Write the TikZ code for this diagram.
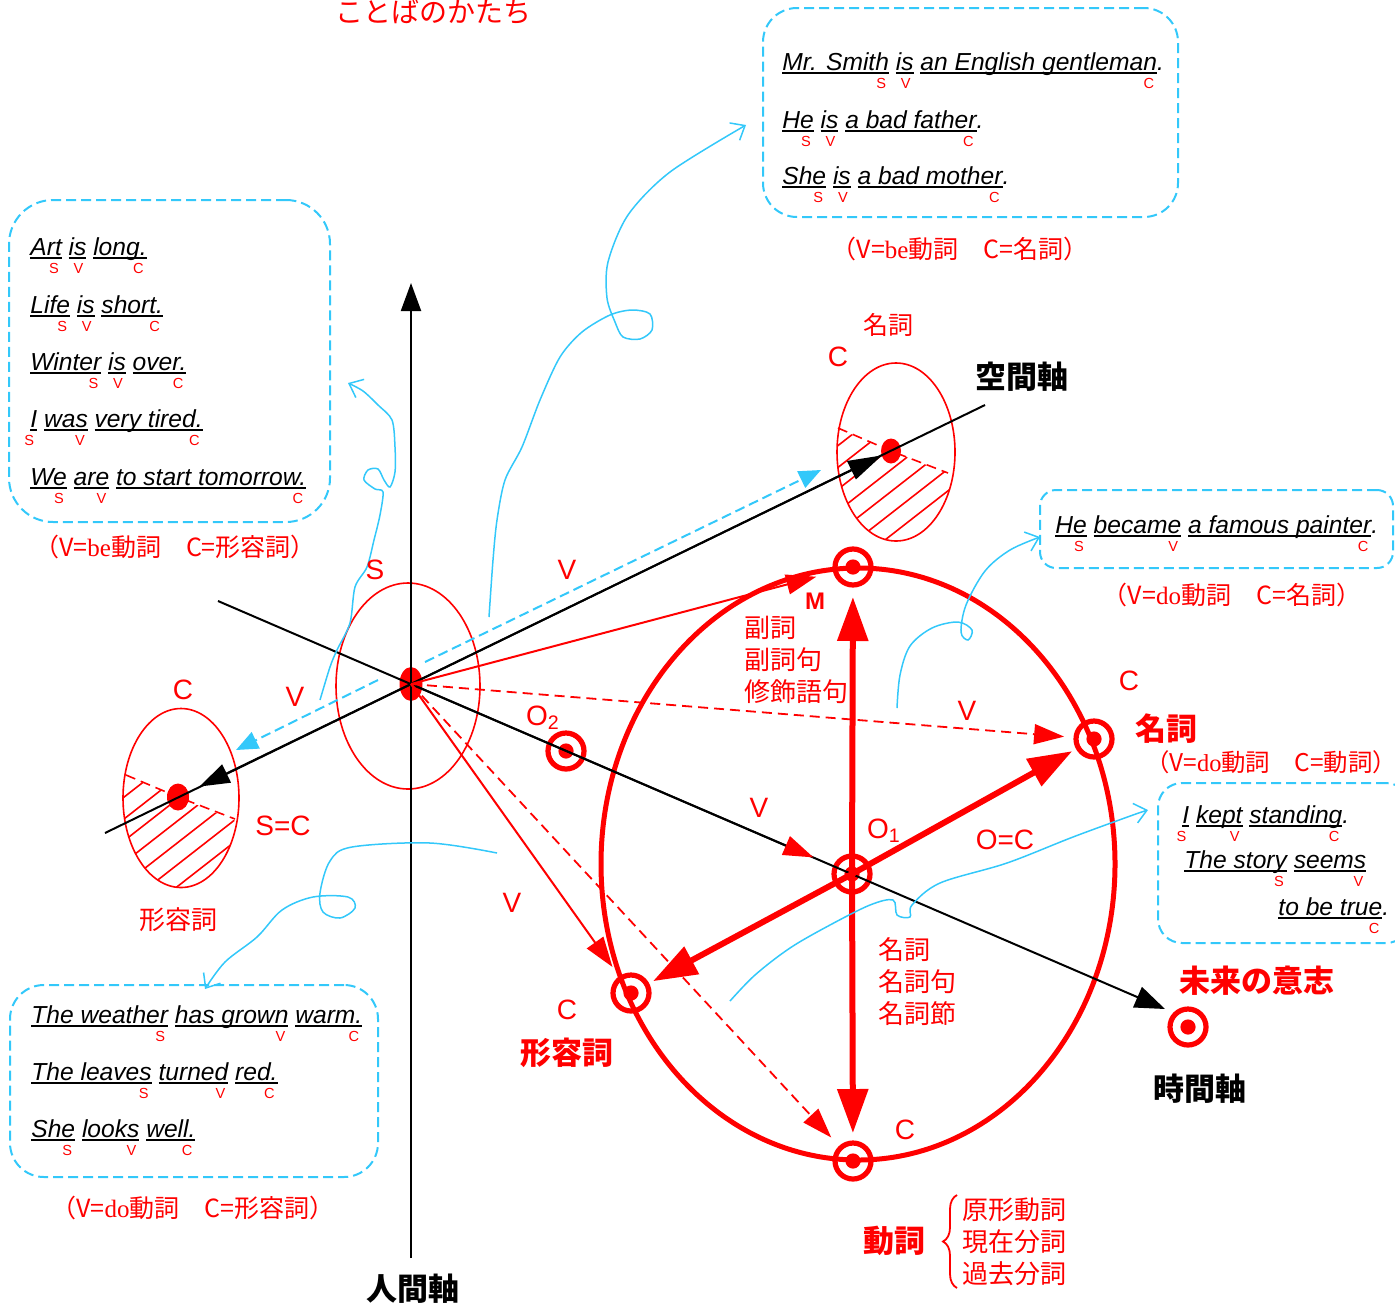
\documentclass[tikz,border=0pt]{standalone}
\usepackage{fontspec}
\setmainfont{Liberation Sans}
\newfontfamily\jp{Noto Sans CJK JP}
\newfontfamily\lat{Liberation Serif}
\usetikzlibrary{arrows.meta,fit,shapes.geometric,decorations.pathreplacing}
\definecolor{sky}{RGB}{51,200,250}

\newsavebox{\segbox}
% underlined part of a sentence with its red role letter
\newcommand{\sv}[2]{%
  \sbox\segbox{#1}%
  \rlap{\rule[-2.2pt]{\wd\segbox}{1pt}}%
  \rlap{\makebox[\wd\segbox][r]{\raisebox{-9pt}[0pt][0pt]{\upshape\color{red}\fontsize{7.3}{8}\selectfont #2}\hspace{1.5pt}}}%
  \usebox\segbox}

\tikzset{
  axis/.style={black,line width=1pt},
  redthin/.style={red,line width=1pt},
  reddash/.style={red,line width=0.9pt,dash pattern=on 5pt off 3pt},
  redtip/.style={-{Triangle[length=15pt,width=10pt]}},
  redfat/.style={red,line width=3pt,-{Triangle[length=22pt,width=15pt]}},
  skydash/.style={sky,line width=1pt,dash pattern=on 5pt off 2.5pt,-{Triangle[length=11pt,width=9pt]}},
  curl/.style={sky,line width=0.75pt,-{Straight Barb[length=6pt,width=10pt]}},
  box/.style={draw=sky,line width=1pt,dash pattern=on 5pt off 2.5pt,inner sep=0pt},
  target/.style={circle,draw=red,line width=2.6pt,minimum size=18pt,inner sep=0pt,
    path picture={\fill[red] (path picture bounding box.center) circle (3.8pt);}},
  sdot/.style={ellipse,fill=red,inner sep=0pt},
  hatch/.style={red,line width=0.8pt},
  lab/.style={red,font=\fontsize{14}{16}\selectfont},
  jlab/.style={red,font=\jp\fontsize{13}{16}\selectfont},
  jbig/.style={font=\jp\bfseries\fontsize{15.5}{18}\selectfont},
  sent/.style={anchor=base west,inner sep=0pt,font=\fontsize{12.3}{14}\selectfont\itshape},
  capt/.style={red,font=\jp\fontsize{12.5}{15}\selectfont},
}

\begin{document}
\begin{tikzpicture}[x=0.5pt,y=-0.5pt]
\useasboundingbox (0,0) rectangle (1395,1306);

% example boxes
\node[box,rounded corners=22pt,fit={(9,200) (330,522)}] (bxA) {};
\node[box,rounded corners=17pt,fit={(763,8) (1178,217)}] (bxB) {};
\node[box,rounded corners=8pt,fit={(1040,490) (1393,568)}] (bxC) {};
\node[box,rounded corners=12pt,fit={(1158,783) (1410,943)}] (bxD) {};
\node[box,rounded corners=17pt,fit={(10,985) (378,1177)}] (bxE) {};

\node[sent] (sA1) at (30,255) {\sv{Art}{S} \sv{is}{V} \sv{long.}{C}};
\node[sent] (sA2) at (30,313) {\sv{Life}{S} \sv{is}{V} \sv{short.}{C}};
\node[sent] (sA3) at (30,370) {\sv{Winter}{S} \sv{is}{V} \sv{over.}{C}};
\node[sent] (sA4) at (30,427) {\sv{I}{S} \sv{was}{V} \sv{very tired.}{C}};
\node[sent] (sA5) at (30,485) {\sv{We}{S} \sv{are}{V} \sv{to start tomorrow.}{C}};
\node[capt] (capA) at (175,547) {（V=\textup{\lat be}動詞　C=形容詞）};

\node[sent] (sB1) at (782,70) {\sv{Mr. Smith}{S} \sv{is}{V} \sv{an English gentleman}{C}.};
\node[sent] (sB2) at (782,128) {\sv{He}{S} \sv{is}{V} \sv{a bad father}{C}.};
\node[sent] (sB3) at (782,184) {\sv{She}{S} \sv{is}{V} \sv{a bad mother}{C}.};
\node[capt] (capB) at (960,249) {（V=\textup{\lat be}動詞　C=名詞）};

\node[sent] (sC1) at (1055,533) {\sv{He}{S} \sv{became}{V} \sv{a famous painter}{C}.};
\node[capt] (capC) at (1232,595) {（V=\textup{\lat do}動詞　C=名詞）};

\node[sent] (sD1) at (1182,823) {\sv{I}{S} \sv{kept}{V} \sv{standing}{C}.};
\node[sent] (sD2) at (1184,868) {\sv{The story}{S} \sv{seems}{V}};
\node[sent] (sD3) at (1278,915) {\sv{to be true}{C}.};

\node[sent] (sE1) at (31,1023) {\sv{The weather}{S} \sv{has grown}{V} \sv{warm.}{C}};
\node[sent] (sE2) at (31,1080) {\sv{The leaves}{S} \sv{turned}{V} \sv{red.}{C}};
\node[sent] (sE3) at (31,1137) {\sv{She}{S} \sv{looks}{V} \sv{well.}{C}};
\node[capt] (capE) at (193,1208) {（V=\textup{\lat do}動詞　C=形容詞）};

% targets
\node[target] (M) at (853,567) {};
\node[target] (Cn) at (1094,739) {};
\node[target] (O1) at (852,874) {};
\node[target] (Ca) at (631,993) {};
\node[target] (Cb) at (853,1161) {};
\node[target] (O2) at (566,751) {};
\node[target] (Fw) at (1188,1027) {};

% hatched halves
\begin{scope}
  \clip (896,452) ellipse (29.5pt and 44.5pt);
  \clip (820,421) -- (891,451) -- (960,478) -- (960,560) -- (820,560) -- cycle;
  \foreach \x in {640,668,...,900}
    \draw[hatch] (\x,600) -- ++(300,-234);
\end{scope}
\begin{scope}
  \clip (181,798) ellipse (29pt and 44.75pt);
  \clip (110,768) -- (178,797) -- (250,827) -- (250,900) -- (110,900) -- cycle;
  \foreach \x in {-100,-72,...,180}
    \draw[hatch] (\x,950) -- ++(300,-234);
\end{scope}
\draw[reddash,line width=0.8pt] (838,428) -- (891,451) -- (948,473);
\draw[reddash,line width=0.8pt] (126,775) -- (178,797) -- (235,819);

% word areas
\draw[red,line width=0.8pt] (408,686) ellipse (36pt and 51.5pt);
\draw[red,line width=0.8pt] (896,452) ellipse (29.5pt and 44.5pt);
\draw[red,line width=0.8pt] (181,798) ellipse (29pt and 44.75pt);
\draw[red,line width=2.5pt] (858,864) ellipse (128.5pt and 148pt);

\node[sdot,minimum width=11.5pt,minimum height=17pt] (S) at (411,684) {};
\node[sdot,minimum width=10pt,minimum height=12.5pt] (Cu) at (891,451) {};
\node[sdot,minimum width=11pt,minimum height=13.5pt] (Cl) at (178,797) {};

% axes
\coordinate (sp1) at (105,833);
\coordinate (sp2) at (985,405);
\coordinate (tm1) at (218,601);
\coordinate (tm2) at (1165,1009);
\coordinate (hm1) at (411,1258);
\coordinate (hm2) at (411,283);
\draw[axis] (sp1) -- (sp2);
\draw[axis,-{Triangle[length=15pt,width=11pt]}] (tm1) -- (tm2);
\draw[axis,-{Triangle[length=14pt,width=10pt]}] (hm1) -- (hm2);
\draw[axis,-{Triangle[length=17pt,width=10pt]},shorten >=5pt] (S.center) -- (Cu.center);
\draw[axis,-{Triangle[length=15pt,width=10pt]},shorten >=12pt] (S.center) -- (Cl.center);
\draw[axis,-{Triangle[length=15pt,width=10pt,color=red]},shorten >=21pt] (S.center) -- (O1.center);

% verbs from S
\draw[redthin,redtip,shorten >=19pt] (S.center) -- (M.center);
\draw[redthin,redtip,shorten >=16pt] (S.center) -- (Ca.center);
\draw[reddash,redtip,shorten >=15pt] (S.center) -- (Cn.center);
\draw[reddash,redtip,shorten >=16pt] (S.center) -- (Cb.center);

% from O1
\draw[redfat,shorten >=15pt] (O1.center) -- (M.center);
\draw[redfat,shorten >=14pt] (O1.center) -- (Cb.center);
\draw[redfat,shorten >=12.5pt] (O1.center) -- (Cn.center);
\draw[redfat,shorten >=12.5pt] (O1.center) -- (Ca.center);

% cyan links
\coordinate (vU) at (821,470);
\coordinate (vL) at (236,750);
\draw[skydash] (425,662) -- (vU);
\draw[skydash] (378,680) -- (vL);

\coordinate (k1a) at (489,617);
\coordinate (k1b) at (746,125);
\draw[curl] plot[smooth,tension=0.5] coordinates {(k1a) (493,560) (497,520) (505,480) (522,447) (540,400) (560,357) (582,332) (610,315) (632,310) (650,314) (652,330) (640,339) (623,337) (615,322) (607,298) (608,262) (628,215) (670,172) (k1b)};
\coordinate (k2a) at (320,700);
\coordinate (k2b) at (348,383);
\draw[curl] plot[smooth,tension=0.5] coordinates {(k2a) (330,667) (337,650) (350,623) (355,587) (367,567) (374,540) (380,515) (383,492) (375,489) (364,480) (368,470) (378,469) (384,480) (390,487) (395,472) (395,447) (392,420) (378,405) (363,391) (k2b)};
\coordinate (k3a) at (497,853);
\coordinate (k3b) at (205,989);
\draw[curl] plot[smooth,tension=0.55] coordinates {(k3a) (430,843) (352,847) (330,861) (320,893) (323,912) (340,918) (355,908) (348,897) (313,897) (282,910) (257,937) (225,962) (k3b)};
\coordinate (k4a) at (897,708);
\coordinate (k4b) at (1040,537);
\draw[curl] plot[smooth,tension=0.55] coordinates {(k4a) (900,675) (910,646) (932,628) (958,622) (972,630) (968,640) (961,632) (966,605) (985,571) (1010,550) (k4b)};
\coordinate (k5a) at (730,1001);
\coordinate (k5b) at (1148,810);
\draw[curl] plot[smooth,tension=0.55] coordinates {(k5a) (755,975) (790,948) (830,925) (870,905) (893,900) (897,915) (910,917) (912,905) (940,883) (1007,863) (1073,837) (1133,815) (k5b)};

% labels
\node[jlab,font=\jp\fontsize{14}{16}\selectfont] (tTitle) at (433,12) {ことばのかたち};
\node[lab] (tS) at (375,570) {S};
\node[lab] (tV1) at (567,570) {V};
\node[lab] (tV2) at (295,697) {V};
\node[lab] (tV3) at (512,903) {V};
\node[lab] (tV4) at (759,808) {V};
\node[lab] (tV5) at (967,711) {V};
\node[lab] (tCu) at (838,357) {C};
\node[jlab,font=\jp\fontsize{12.5}{15}\selectfont] (tNu) at (888,325) {名詞};
\node[jbig] (tSpace) at (1022,377) {空間軸};
\node[lab] (tCl) at (183,690) {C};
\node[lab] (tSC) at (283,826) {S=C};
\node[jlab] (tAl) at (178,920) {形容詞};
\node[red,font=\bfseries\fontsize{12}{14}\selectfont] (tM) at (815,601) {M};
\node[jlab,align=left,anchor=west] (tAdv) at (737,660) {副詞\\副詞句\\修飾語句};
\node[lab] (tO2) at (543,718) {O\textsubscript{2}};
\node[lab] (tO1) at (884,831) {O\textsubscript{1}};
\node[lab] (tOC) at (1005,840) {O=C};
\node[lab] (tCn) at (1129,681) {C};
\node[jbig,red] (tNn) at (1166,729) {名詞};
\node[capt,font=\jp\fontsize{12.2}{15}\selectfont] (capN) at (1271,762) {（V=\textup{\lat do}動詞　C=動詞）};
\node[jbig,red] (tFut) at (1257,981) {未来の意志};
\node[jbig] (tTime) at (1200,1089) {時間軸};
\node[lab] (tCa) at (567,1010) {C};
\node[jbig,red] (tAa) at (567,1053) {形容詞};
\node[lab] (tCb) at (905,1130) {C};
\node[jlab,align=left,anchor=west] (tNoun) at (871,982) {名詞\\名詞句\\名詞節};
\node[jbig] (tHuman) at (413,1289) {人間軸};
\node[jbig,red] (tVerb) at (894,1241) {動詞};
\draw[red,line width=0.9pt,decorate,decoration={brace,amplitude=7pt}] (957,1288) -- (957,1195);
\node[jlab,align=left,anchor=west] (tForms) at (955,1242) {原形動詞\\現在分詞\\過去分詞};
\end{tikzpicture}
\end{document}
